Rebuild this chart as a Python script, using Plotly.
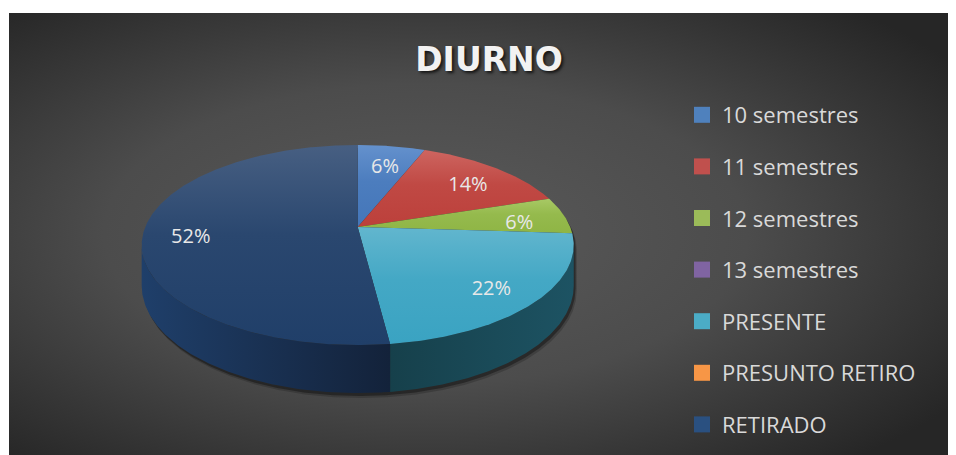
import math
import base64
import plotly.graph_objects as go

# ---------------- data ----------------
categories = ["10 semestres", "11 semestres", "12 semestres", "13 semestres",
              "PRESENTE", "PRESUNTO RETIRO", "RETIRADO"]
values = [3, 7, 3, 0, 11, 0, 26]

# ---------------- style ----------------
base_colors = ["#4F81BD", "#C0504D", "#9BBB59", "#8064A2", "#4BACC6", "#F79646", "#2A5080"]
top_light = ["#6491cd", "#cd6560", "#a8c965", "#9a82ba", "#62b6ce", "#f9a86a", "#475f82"]
top_dark = ["#4476b9", "#bc403b", "#8fb545", "#7a5c9e", "#3aa3c2", "#e98a3c", "#203f69"]
side_left = ["#2a4f80", "#7a2a28", "#55702a", "#4a3566", "#16404b", "#9a5520", "#1f3f6a"]
side_right = ["#2a4f80", "#7a2a28", "#55702a", "#4a3566", "#1d5363", "#9a5520", "#13223a"]

# page is rendered with an 8px body margin -> figure occupies page x 8..956, y 8..455
PAGE_W, PAGE_H, OFF = 956, 455, 8
W, H = PAGE_W - OFF, PAGE_H - OFF
CX, CY, RX, RY, PERSP, DEPTH = 357.7, 227.0, 212.5, 96.8, 0.18, 39.4
LABEL_R = 0.78
LABEL_DY = 6


def px_x(x):
    return (x - OFF) / W


def px_y(y):
    return 1 - (y - OFF) / H


def proj(theta_deg, r=1.0, z=0.0):
    t = math.radians(theta_deg)
    u = r * math.sin(t)
    v = -r * math.cos(t)
    w = 1 - PERSP * v
    return CX + RX * u / w, CY + RY * v / w + z * DEPTH / w


def arc(a0, a1, z=0.0):
    n = max(2, int(abs(a1 - a0) / 0.5) + 1)
    pts = [proj(a0 + (a1 - a0) * i / (n - 1), 1.0, z) for i in range(n)]
    return [p[0] for p in pts], [p[1] for p in pts]


def hexmix(c1, c2, t):
    a = [int(c1[i:i + 2], 16) for i in (1, 3, 5)]
    b = [int(c2[i:i + 2], 16) for i in (1, 3, 5)]
    return "#" + "".join("%02x" % round(a[i] + (b[i] - a[i]) * t) for i in range(3))


total = sum(values)
starts, ends = [], []
acc = 0.0
for v in values:
    starts.append(acc / total * 360)
    acc += v
    ends.append(acc / total * 360)

# silhouette angles (visible side range)
s_ang = math.degrees(math.acos(-PERSP))
VIS0, VIS1 = s_ang, 360 - s_ang

fig = go.Figure()

# shadow of the whole cylinder
for off, alpha in ((5, 0.18), (3, 0.35)):
    xs, ys = [], []
    for i in range(721):
        th = i * 0.5
        z = 1.0 if VIS0 <= th <= VIS1 else 0.0
        qx, qy = proj(th, 1.0, z)
        xs.append(qx + off * 0.6)
        ys.append(qy + off)
    fig.add_trace(go.Scatter(x=xs, y=ys, fill="toself", mode="lines",
                             line=dict(width=0), fillcolor="rgba(0,0,0,%s)" % alpha,
                             hoverinfo="skip", showlegend=False))

# side walls
for i, v in enumerate(values):
    if v <= 0:
        continue
    a0, a1 = max(starts[i], VIS0), min(ends[i], VIS1)
    if a1 <= a0:
        continue
    tx, ty = arc(a0, a1, 0.0)
    bx, by = arc(a0, a1, 1.0)
    xs = tx + bx[::-1] + [tx[0]]
    ys = ty + by[::-1] + [ty[0]]
    fig.add_trace(go.Scatter(
        x=xs, y=ys, fill="toself", mode="lines", line=dict(width=0),
        fillgradient=dict(type="horizontal", start=min(xs), stop=max(xs),
                          colorscale=[[0, side_left[i]], [1, side_right[i]]]),
        hoverinfo="skip", showlegend=False))

# top faces
for i, v in enumerate(values):
    if v <= 0:
        continue
    ax, ay = arc(starts[i], ends[i], 0.0)
    cx0, cy0 = proj(0, 0.0, 0.0)
    xs = [cx0] + ax + [cx0]
    ys = [cy0] + ay + [cy0]
    mid = hexmix(top_light[i], top_dark[i], 0.75)
    fig.add_trace(go.Scatter(
        x=xs, y=ys, fill="toself", mode="lines", line=dict(width=0),
        fillgradient=dict(type="vertical", start=min(ys), stop=max(ys),
                          colorscale=[[0, top_light[i]], [0.45, mid], [1, top_dark[i]]]),
        hoverinfo="skip", showlegend=False))

# data labels
lx, ly, lt = [], [], []
for i, v in enumerate(values):
    if v <= 0:
        continue
    qx, qy = proj((starts[i] + ends[i]) / 2, LABEL_R, 0.0)
    lx.append(qx)
    ly.append(qy + LABEL_DY)
    lt.append("%d%%" % round(v / total * 100))
fig.add_trace(go.Scatter(x=lx, y=ly, text=lt, mode="text",
                         textfont=dict(family="Open Sans", size=20, color="#e8e8e8"),
                         hoverinfo="skip", showlegend=False))

# legend entries
for i, c in enumerate(categories):
    fig.add_trace(go.Scatter(x=[None], y=[None], mode="markers", name=c,
                             legendgroup=c,
                             marker=dict(symbol="square", size=16, color=base_colors[i]),
                             showlegend=True))

# background (radial gradient panel), page x 9..956, y 13..455
svg = ('<svg xmlns="http://www.w3.org/2000/svg" width="947" height="442" '
       'viewBox="0 0 947 442" preserveAspectRatio="none"><defs>'
       '<radialGradient id="g" cx="0.44" cy="0.5" r="0.68">'
       '<stop offset="0" stop-color="#5a5a5a"/>'
       '<stop offset="0.5" stop-color="#4c4c4c"/>'
       '<stop offset="1" stop-color="#262626"/>'
       '</radialGradient></defs>'
       '<rect width="947" height="442" fill="url(#g)"/></svg>')
src = "data:image/svg+xml;base64," + base64.b64encode(svg.encode()).decode()

fig.update_layout(
    width=W, height=H,
    margin=dict(l=0, r=0, t=0, b=0, autoexpand=False),
    paper_bgcolor="white",
    plot_bgcolor="rgba(0,0,0,0)",
    xaxis=dict(range=[OFF, PAGE_W], visible=False, fixedrange=True),
    yaxis=dict(range=[PAGE_H, OFF], visible=False, fixedrange=True),
    images=[dict(source=src, xref="paper", yref="paper",
                 x=px_x(9), y=px_y(13), sizex=947 / W, sizey=442 / H,
                 xanchor="left", yanchor="top", sizing="stretch", layer="below")],
    title=dict(text="DIURNO", x=px_x(489), xanchor="center",
               y=px_y(59), yanchor="middle",
               font=dict(family="DejaVu Sans", size=33, color="#f2f2f2",
                         weight="bold", shadow="2px 2px 3px rgba(0,0,0,0.7)")),
    legend=dict(x=px_x(682), y=px_y(94), xanchor="left", yanchor="top",
                bgcolor="rgba(0,0,0,0)", tracegroupgap=20,
                font=dict(family="Open Sans", size=22, color="#d9d9d9"),
                itemclick=False, itemdoubleclick=False),
    showlegend=True,
)

fig.write_html("out.html")
